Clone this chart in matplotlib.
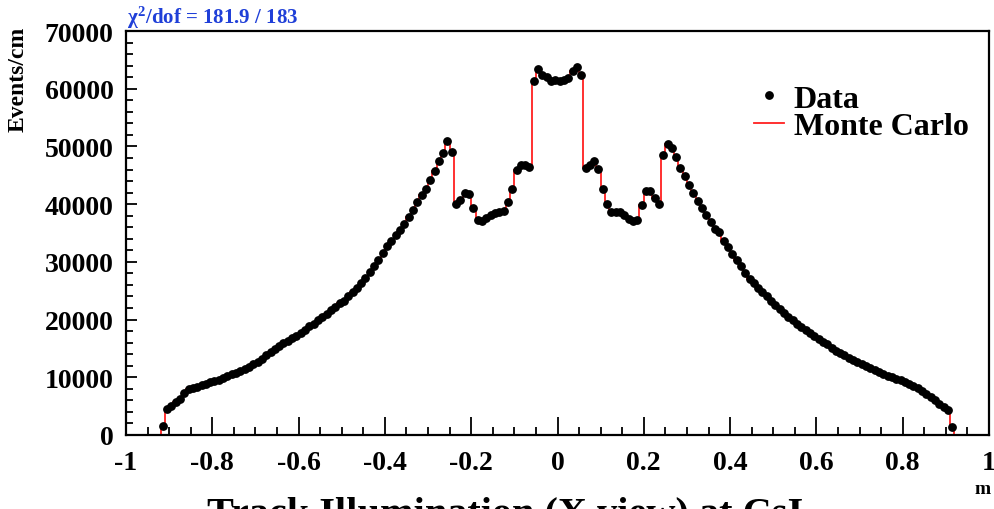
"""Track illumination at CsI: data vs Monte Carlo histogram (ROOT-style)."""

import matplotlib
matplotlib.use("Agg")
import matplotlib.pyplot as plt
import numpy as np
from matplotlib.lines import Line2D
from matplotlib.ticker import MultipleLocator

# Bin contents (Events/cm), 0.01 m bins from -0.92 to 0.92
events_neg = [
    1600, 4500, 5100, 5700, 6300, 7200, 7900, 8200, 8400, 8700,
    8900, 9100, 9400, 9600, 9900, 10200, 10500, 10800, 11100, 11400,
    11800, 12300, 12700, 13200, 13800, 14300, 14900, 15400, 15900, 16300,
    16800, 17200, 17700, 18200, 18800, 19300, 19900, 20400, 21000, 21600,
    22200, 22800, 23300, 24000, 24700, 25500, 26300, 27200, 28200, 29200,
    30300, 31500, 32700, 33700, 34700, 35600, 36600, 37800, 39000, 40300,
    41600, 42700, 44200, 45800, 47400, 48800, 50900, 49000, 40000, 40700,
    41900, 41800, 39300, 37300, 37000, 37600, 38100, 38500, 38700, 38800,
    40300, 42700, 45900, 46800, 46700, 46500, 61300, 63500, 62400, 62000,
    61400, 61500,
]
events_pos = [
    61300, 61500, 61900, 63000, 63700, 62400, 46300, 46800, 47400, 46100,
    42700, 40000, 38700, 38700, 38600, 38200, 37500, 37000, 37300, 39800,
    42200, 42300, 41100, 40000, 48600, 50400, 49800, 48200, 46200, 44900,
    43300, 41900, 40500, 39400, 38100, 36900, 35700, 35200, 33700, 32600,
    31400, 30300, 29200, 28100, 27100, 26300, 25500, 24800, 24000, 23300,
    22600, 21900, 21200, 20500, 19900, 19300, 18700, 18200, 17600, 17100,
    16700, 16200, 15700, 15100, 14600, 14200, 13800, 13400, 13000, 12600,
    12300, 11900, 11600, 11200, 10900, 10600, 10300, 10000, 9700, 9500,
    9200, 8900, 8500, 8100, 7600, 7100, 6600, 6000, 5400, 4900,
    4300, 1300,
]
x_range = (-0.92, 0.92)
x_ticks = [-1, -0.8, -0.6, -0.4, -0.2, 0, 0.2, 0.4, 0.6, 0.8, 1]
x_ticklabels = ["-1", "-0.8", "-0.6", "-0.4", "-0.2", "0",
                "0.2", "0.4", "0.6", "0.8", "1"]
chi2_text = r"$\chi^{2}$/dof = 181.9 / 183"
legend_labels = ["Data", "Monte Carlo"]

counts = np.array(events_neg + events_pos, dtype=float)
edges = np.linspace(x_range[0], x_range[1], len(counts) + 1)
centers = 0.5 * (edges[:-1] + edges[1:])

plt.rcParams["font.family"] = ["Liberation Serif", "DejaVu Serif"]
plt.rcParams["font.weight"] = "bold"
plt.rcParams["mathtext.fontset"] = "custom"
plt.rcParams["mathtext.rm"] = "Liberation Serif:bold"
plt.rcParams["mathtext.it"] = "Liberation Serif:bold"

fig = plt.figure(figsize=(9.95, 5.10), dpi=100)
ax = fig.add_axes([126 / 995, 1 - 436 / 510, 863 / 995, 404 / 510])

# Monte Carlo as red step outline, data as black dots on top
ax.stairs(counts, edges, color="#ff2020", linewidth=1.3, baseline=0)
ax.plot(centers, counts, "o", color="black", markersize=5.3)

ax.set_xlim(-1, 1)
ax.set_ylim(0, 70000)

ax.xaxis.set_minor_locator(MultipleLocator(0.05))
ax.yaxis.set_major_locator(MultipleLocator(10000))
ax.yaxis.set_minor_locator(MultipleLocator(2000))
ax.set_xticks(x_ticks)
ax.set_xticklabels(x_ticklabels)

ax.tick_params(axis="x", which="major", direction="in", length=13, width=1.3,
               pad=11, labelsize=20)
ax.tick_params(axis="x", which="minor", direction="in", length=6, width=1.3)
ax.tick_params(axis="y", which="major", direction="in", length=8, width=1.3,
               pad=9, labelsize=20)
ax.tick_params(axis="y", which="minor", direction="in", length=5, width=1.3)
ax.tick_params(top=False, right=False, which="both")
for s in ax.spines.values():
    s.set_linewidth(1.6)

# Legend
handles = [
    Line2D([], [], marker="o", color="black", linestyle="none", markersize=5.3),
    Line2D([], [], color="#ff2020", linewidth=1.3),
]
ax.legend(handles, legend_labels, loc="upper left",
          bbox_to_anchor=(0.709, 0.908), frameon=False,
          prop={"family": "Liberation Serif", "weight": "bold", "size": 23},
          handlelength=0.95, handletextpad=0.3, labelspacing=-0.05,
          borderpad=0.0)

# Texts around the frame
fig.text(127 / 995, 1 - 31 / 510, chi2_text, color="#1f3fd8",
         fontsize=15, fontweight="bold", ha="left", va="bottom")
fig.text(18 / 995, 1 - 27 / 510, "Events/cm", rotation=90, fontsize=17,
         fontweight="bold", ha="center", va="top")
fig.text(983 / 995, 1 - 481 / 510, "m", fontsize=14, fontweight="bold",
         ha="center", va="top")
fig.text(505 / 995, 1 - 496 / 510, "Track Illumination (X view) at CsI",
         fontsize=29, fontweight="bold", ha="center", va="top")

fig.savefig("out.png", dpi=100)
